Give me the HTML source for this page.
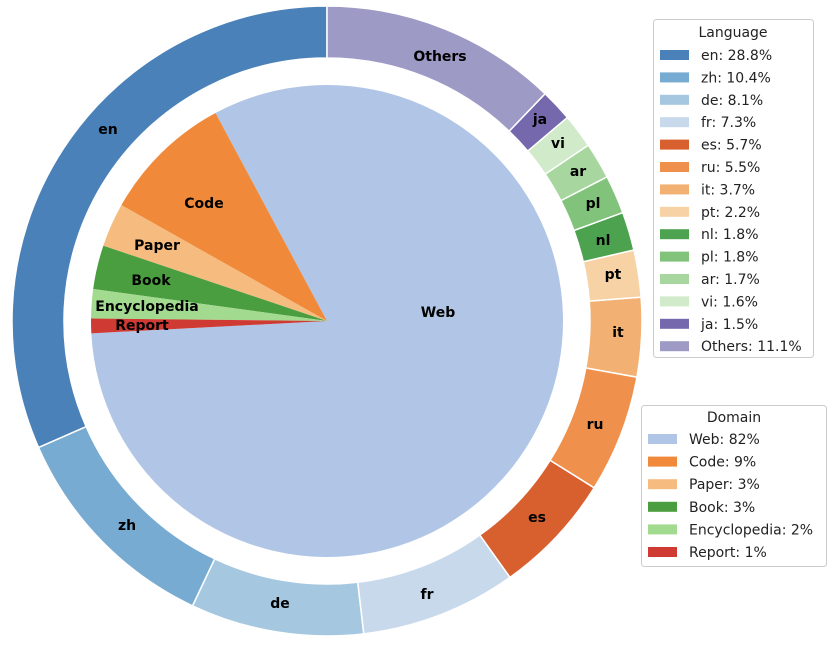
<!DOCTYPE html>
<html><head><meta charset="utf-8"><style>
body{margin:0;background:#fff;width:832px;height:646px;overflow:hidden;font-family:"Liberation Sans","DejaVu Sans",sans-serif}
svg text{font-family:"DejaVu Sans","Liberation Sans",sans-serif}
</style></head><body>
<svg id="s" width="832" height="646" xmlns="http://www.w3.org/2000/svg">
<g id="wedges"></g>
<g font-weight="bold" font-size="14" text-anchor="middle" dominant-baseline="central" fill="#000">
<text x="440" y="57">Others</text><text x="540" y="120">ja</text><text x="558" y="144">vi</text>
<text x="578" y="172">ar</text><text x="593" y="204">pl</text><text x="603" y="241">nl</text>
<text x="613" y="275">pt</text><text x="618" y="333">it</text><text x="595" y="425">ru</text>
<text x="537" y="518">es</text><text x="427" y="595">fr</text><text x="280" y="604">de</text>
<text x="127" y="526">zh</text><text x="108" y="130">en</text>
<text x="204" y="204">Code</text><text x="157" y="246">Paper</text><text x="151" y="281">Book</text>
<text x="147" y="307">Encyclopedia</text><text x="142" y="326">Report</text><text x="438" y="313">Web</text>
</g>
<g font-size="14" fill="#222">
<rect x="653.5" y="19.5" width="160" height="338" rx="3" fill="#fff" stroke="#ccc"/>
<text x="733" y="37" text-anchor="middle">Language</text>
<g id="leg1"></g>
<rect x="641.5" y="405.5" width="185" height="161" rx="3" fill="#fff" stroke="#ccc"/>
<text x="734" y="422" text-anchor="middle">Domain</text>
<g id="leg2"></g>
</g>
</svg>
<script>
const cx=327,cy=321,R=315,r1=263,rp=236;
const outer=[["en",28.8,"#4a81b9"],["zh",10.4,"#78abd2"],["de",8.1,"#a5c8e0"],["fr",7.3,"#c8d9ec"],["es",5.7,"#d8602e"],["ru",5.5,"#ef904c"],["it",3.7,"#f2b073"],["pt",2.2,"#f6d2a4"],["nl",1.8,"#4ca24f"],["pl",1.8,"#82c37c"],["ar",1.7,"#a7d79e"],["vi",1.6,"#d0eaca"],["ja",1.5,"#7568ad"],["Others",11.1,"#9e9ac6"]];
const inner=[["Web",82,"#b1c6e6"],["Code",9,"#f08a3a"],["Paper",3,"#f5bb7f"],["Book",3,"#4a9e3f"],["Encyclopedia",2,"#a2da90"],["Report",1,"#cf3a33"]];
function pt(a,rad){a=a*Math.PI/180;return [cx+rad*Math.cos(a),cy-rad*Math.sin(a)];}
let g=document.getElementById("wedges"),h="";
let tot=outer.reduce((s,d)=>s+d[1],0),a=90;
for(const d of outer){let b=a+d[1]/tot*360,l=(b-a)>180?1:0;
 let p1=pt(a,R),p2=pt(b,R),p3=pt(b,r1),p4=pt(a,r1);
 h+=`<path d="M${p1} A${R},${R} 0 ${l} 0 ${p2} L${p3} A${r1},${r1} 0 ${l} 1 ${p4}Z" fill="${d[2]}" stroke="#fff" stroke-width="1.5"/>`;a=b;}
a=183.0;
for(const d of inner){let b=a+d[1]/100*360,l=(b-a)>180?1:0;
 let p1=pt(a,rp),p2=pt(b,rp);
 h+=`<path d="M${cx},${cy} L${p1} A${rp},${rp} 0 ${l} 0 ${p2}Z" fill="${d[2]}"/>`;a=b;}
g.innerHTML=h;
let l1="",y=55;
for(const d of outer){l1+=`<rect x="660" y="${y-5}" width="29" height="10" fill="${d[2]}"/><text x="701" y="${y+5}">${d[0]}: ${d[1]}%</text>`;y+=22.4;}
document.getElementById("leg1").innerHTML=l1;
let l2="";y=439;
for(const d of inner){l2+=`<rect x="648" y="${y-5}" width="29" height="10" fill="${d[2]}"/><text x="689" y="${y+5}">${d[0]}: ${d[1]}%</text>`;y+=22.6;}
document.getElementById("leg2").innerHTML=l2;
</script>
</body></html>
